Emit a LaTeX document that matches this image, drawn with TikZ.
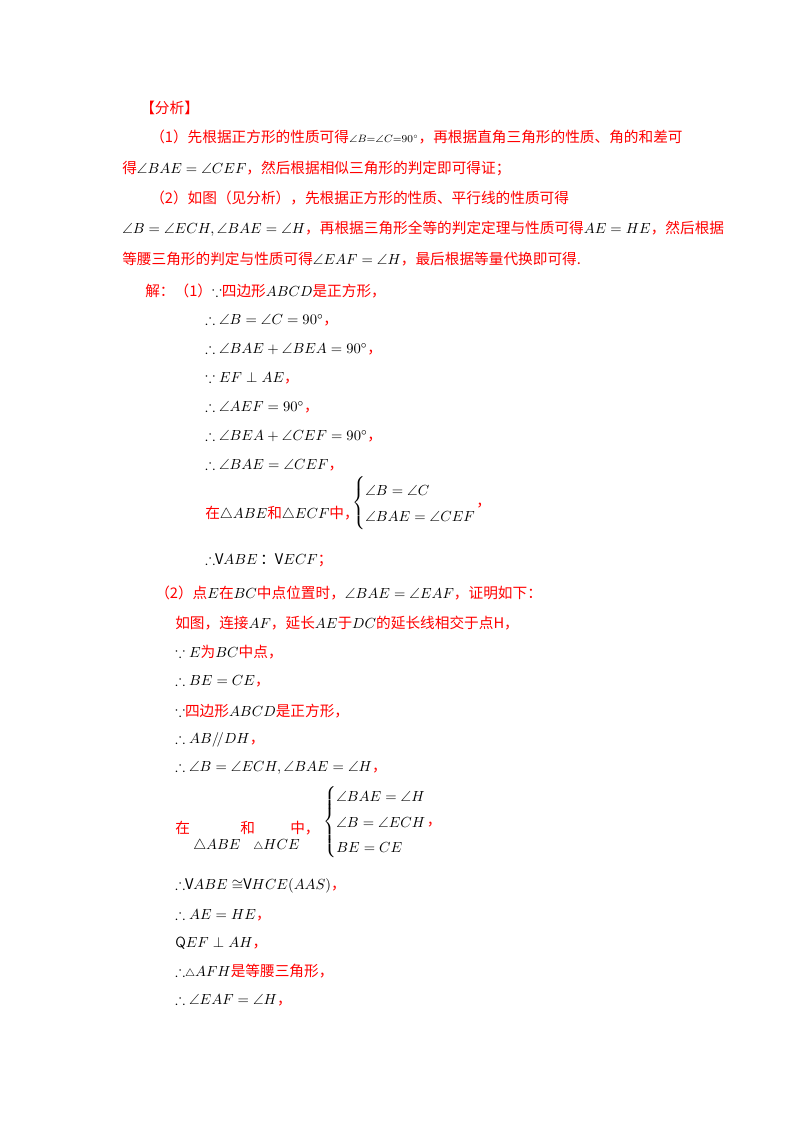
\documentclass[tikz,border=0pt]{standalone}
\usepackage{amsmath,amssymb}
\usepackage{fontspec}
\newfontfamily\cjk{Noto Sans CJK SC}
\definecolor{rd}{RGB}{255,0,0}
\newcommand{\R}[1]{\textcolor{rd}{#1}}
\begin{document}
\begin{tikzpicture}[x=0.75pt,y=-0.75pt,
  ln/.style={anchor=west,inner sep=0pt,font=\fontsize{11}{13}\cjk}]
\useasboundingbox (0,0) rectangle (800,1132);
\fill[white] (0,0) rectangle (800,1132);
\node[ln] (l1) at (140,108) {\R{【分析】}};
\node[ln] (l2) at (150,137) {\R{（1）先根据正方形的性质可得}$\scriptstyle\angle B=\angle C=90^\circ$\R{，再根据直角三角形的性质、角的和差可}};
\node[ln] (l3) at (122,168) {\R{得}$\angle BAE=\angle CEF$\R{，然后根据相似三角形的判定即可得证；}};
\node[ln] (l4) at (150,198) {\R{（2）如图（见分析），先根据正方形的性质、平行线的性质可得}};
\node[ln] (l5) at (122,229) {$\angle B=\angle ECH,\angle BAE=\angle H$\R{，再根据三角形全等的判定定理与性质可得}$AE=HE$\R{，然后根据}};
\node[ln] (l6) at (122,259) {\R{等腰三角形的判定与性质可得}$\angle EAF=\angle H$\R{，最后根据等量代换即可得.}};
\node[ln] (l7) at (145,291) {\R{解：（1）}$\because$\R{四边形}$ABCD$\R{是正方形，}};
\node[ln] (l8) at (205,320) {$\therefore\angle B=\angle C=90^\circ$\R{，}};
\node[ln] (l9) at (205,349) {$\therefore\angle BAE+\angle BEA=90^\circ$\R{，}};
\node[ln] (l10) at (205,378) {$\because EF\perp AE$\R{，}};
\node[ln] (l11) at (205,407) {$\therefore\angle AEF=90^\circ$\R{，}};
\node[ln] (l12) at (205,436) {$\therefore\angle BEA+\angle CEF=90^\circ$\R{，}};
\node[ln] (l13) at (205,465) {$\therefore\angle BAE=\angle CEF$\R{，}};
\node[ln] (l14) at (205,514) {\R{在}$\triangle ABE$\R{和}$\triangle ECF$\R{中，}};
\node[ln] (c1) at (352,503) {$\renewcommand{\arraystretch}{1.5}\left\{\begin{array}{@{}l@{}}\angle B=\angle C\\ \angle BAE=\angle CEF\end{array}\right.$\R{，}};
\node[ln] (l15) at (205,560) {$\therefore$V$ABE$\,：V$ECF$\R{；}};
\node[ln] (l16) at (155,593) {\R{（2）点}$E$\R{在}$BC$\R{中点位置时，}$\angle BAE=\angle EAF$\R{，证明如下：}};
\node[ln] (l17) at (175,623) {\R{如图，连接}$AF$\R{，延长}$AE$\R{于}$DC$\R{的延长线相交于点H，}};
\node[ln] (l18) at (175,652) {$\because E$\R{为}$BC$\R{中点，}};
\node[ln] (l19) at (175,681) {$\therefore BE=CE$\R{，}};
\node[ln] (l20) at (175,711) {$\because$\R{四边形}$ABCD$\R{是正方形，}};
\node[ln] (l21) at (175,740) {$\therefore AB/\!/DH$\R{，}};
\node[ln] (l22) at (175,768) {$\therefore\angle B=\angle ECH,\angle BAE=\angle H$\R{，}};
\node[ln] (z1) at (175,828) {\R{在}};
\node[ln] (z2) at (240,828) {\R{和}};
\node[ln] (z3) at (290,828) {\R{中，}};
\node[ln] (t1) at (193,846) {$\triangle ABE$};
\node[ln] (t2) at (253,846) {$\scriptstyle\triangle$$HCE$};
\node[ln] (c2) at (323,822) {$\renewcommand{\arraystretch}{1.45}\left\{\begin{array}{@{}l@{}}\angle BAE=\angle H\\ \angle B=\angle ECH\\ BE=CE\end{array}\right.$\R{，}};
\node[ln] (l24) at (175,886) {$\therefore$V$ABE\cong$V$HCE(AAS)$\R{，}};
\node[ln] (l25) at (175,915) {$\therefore AE=HE$\R{，}};
\node[ln] (l26) at (175,943) {\textsf{Q}$EF\perp AH$\R{，}};
\node[ln] (l27) at (175,971) {$\therefore\scriptstyle\triangle$$AFH$\R{是等腰三角形，}};
\node[ln] (l28) at (175,1000) {$\therefore\angle EAF=\angle H$\R{，}};
\end{tikzpicture}
\end{document}
